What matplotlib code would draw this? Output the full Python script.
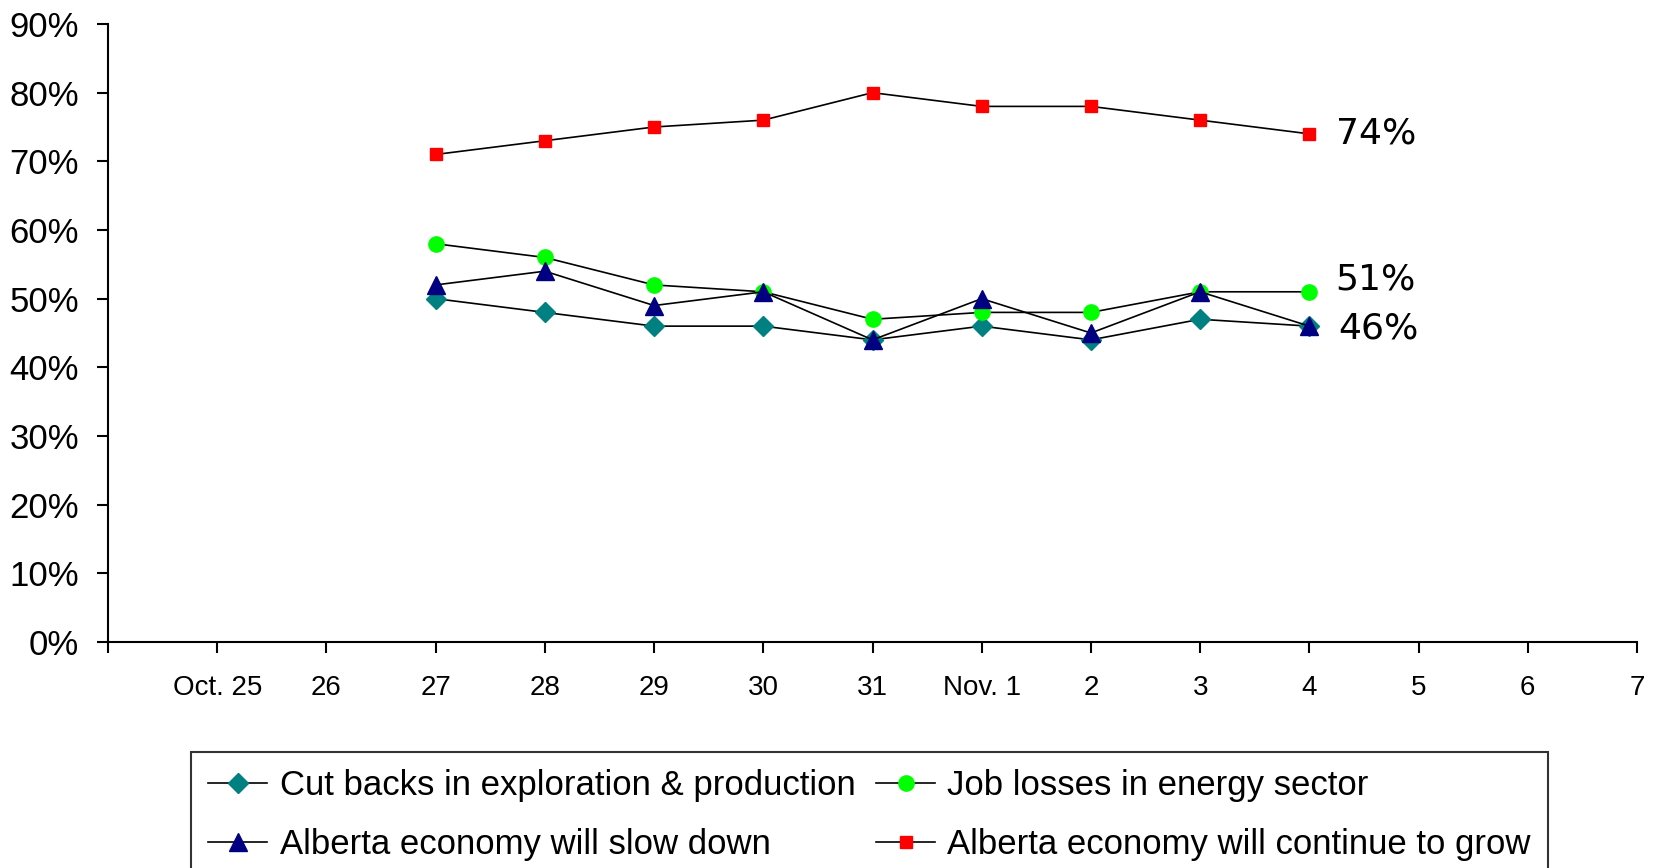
import matplotlib
matplotlib.use('Agg')
import matplotlib.pyplot as plt

# Dates on the category axis (first slot has no label)
dates = ['', 'Oct. 25', '26', '27', '28', '29', '30', '31', 'Nov. 1',
         '2', '3', '4', '5', '6', '7']
# Survey days that have data: Oct. 27 ... Nov. 4
survey_days = ['27', '28', '29', '30', '31', 'Nov. 1', '2', '3', '4']

cut_backs = [50, 48, 46, 46, 44, 46, 44, 47, 46]
job_losses = [58, 56, 52, 51, 47, 48, 48, 51, 51]
slow_down = [52, 54, 49, 51, 44, 50, 45, 51, 46]
keep_growing = [71, 73, 75, 76, 80, 78, 78, 76, 74]

y_ticks = [0, 10, 20, 30, 40, 50, 60, 70, 80, 90]

plt.rcParams['font.family'] = ['Liberation Sans', 'DejaVu Sans']

fig = plt.figure(figsize=(16.55, 8.68), dpi=100)
ax = fig.add_axes([108 / 1655, 1 - 642 / 868, (1637 - 108) / 1655, (642 - 24) / 868])

xpos = [dates.index(d) for d in survey_days]

l1, = ax.plot(xpos, cut_backs, color='black', lw=1.2, marker='D', ms=10,
              mfc='#008080', mec='#008080', label='Cut backs in exploration & production')
l2, = ax.plot(xpos, job_losses, color='black', lw=1.2, marker='o', ms=11,
              mfc='#00ff00', mec='#00ff00', label='Job losses in energy sector')
l3, = ax.plot(xpos, slow_down, color='black', lw=1.2, marker='^', ms=13,
              mfc='#000080', mec='#000080', label='Alberta economy will slow down')
l4, = ax.plot(xpos, keep_growing, color='black', lw=1.2, marker='s', ms=8.5,
              mfc='#ff0000', mec='#ff0000', label='Alberta economy will continue to grow')

# End labels
end_x = xpos[-1]
ann = dict(textcoords='offset points', va='center', fontsize=26, family='DejaVu Sans')
ax.annotate(f'{keep_growing[-1]}%', (end_x, keep_growing[-1]), xytext=(19, 0), **ann)
ax.annotate(f'{job_losses[-1]}%', (end_x, job_losses[-1]), xytext=(19, 9), **ann)
ax.annotate(f'{slow_down[-1]}%', (end_x, slow_down[-1]), xytext=(21, -2), **ann)

ax.set_xlim(0, len(dates) - 1)
ax.set_ylim(0, 90)
ax.set_xticks(range(len(dates)))
ax.set_xticklabels(dates, fontsize=20)
ax.set_yticks(y_ticks)
ax.set_yticklabels([f'{v}%' for v in y_ticks], fontsize=25)
ax.tick_params(axis='x', length=8, width=1.5, pad=16)
ax.tick_params(axis='y', length=8, width=1.5, pad=13)

for s in ['top', 'right']:
    ax.spines[s].set_visible(False)
for s in ['left', 'bottom']:
    ax.spines[s].set_linewidth(1.5)

# row-major order like the original: cut backs, job losses / slow down, grow
leg = fig.legend([l1, l3, l2, l4], [l.get_label() for l in (l1, l3, l2, l4)],
                 loc='upper left', bbox_to_anchor=(191 / 1655, 1 - 752 / 868),
                 ncol=2, fontsize=25, frameon=True, fancybox=False,
                 handlelength=1.7, handletextpad=0.35, columnspacing=0.6,
                 labelspacing=0.75, borderpad=0.5, borderaxespad=0)
leg.get_frame().set_edgecolor('black')
leg.get_frame().set_linewidth(1.5)

fig.savefig('out.png', dpi=100)
